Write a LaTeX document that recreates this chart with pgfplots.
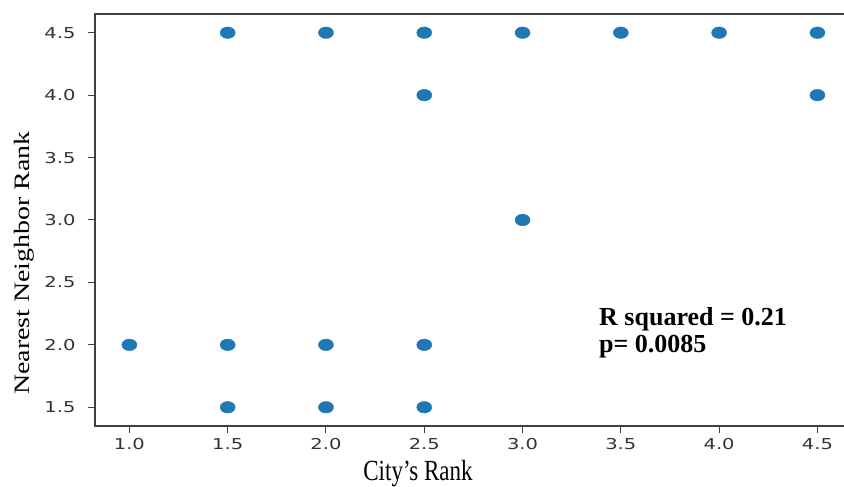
\documentclass[border=0pt]{standalone}
\usepackage{fontspec}
\setmainfont{Liberation Serif}
\newfontfamily\tickfont[FakeStretch=1.3]{DejaVu Sans}
\usepackage{pgfplots}
\pgfplotsset{compat=1.18}
\definecolor{mplblue}{HTML}{1F77B4}
\definecolor{spine}{HTML}{404040}

\begin{document}
\begin{tikzpicture}[x=1bp,y=1bp]
\useasboundingbox (0,0) rectangle (844,487);
\begin{axis}[
    at={(95bp,61bp)}, anchor=south west,
    scale only axis, width=756.8bp, height=412bp,
    xmin=0.825, xmax=4.675, ymin=1.35, ymax=4.65,
    xtick={1.0,1.5,2.0,2.5,3.0,3.5,4.0,4.5},
    ytick={1.5,2.0,2.5,3.0,3.5,4.0,4.5},
    xtick pos=lower, ytick pos=left,
    tick align=outside,
    major tick length=7bp,
    tick style={spine, line width=1bp},
    axis line style={spine, line width=1.5bp},
    ticklabel style={font=\tickfont\fontsize{15bp}{18bp}\selectfont, text=black!80},
    yticklabel style={xshift=-9bp},
    xticklabel style={yshift=-2bp},
    /pgf/number format/.cd, fixed, fixed zerofill, precision=1, assume math mode=true,
]
    \addplot[only marks, mark=*, mark size=5.8bp, mplblue,
        mark options={xscale=1.3}] coordinates {
        (1.5,4.5) (2.0,4.5) (2.5,4.5) (3.0,4.5) (3.5,4.5) (4.0,4.5) (4.5,4.5)
        (2.5,4.0) (4.5,4.0)
        (3.0,3.0)
        (1.0,2.0) (1.5,2.0) (2.0,2.0) (2.5,2.0)
        (1.5,1.5) (2.0,1.5) (2.5,1.5)
    };
\end{axis}
% labels placed as in the reference
\node[rotate=90] at (24,224) {\scalebox{1.27}[1]{\fontsize{22bp}{26bp}\selectfont Nearest Neighbor Rank}};
\node[anchor=base, inner sep=0pt] at (418,6) {\scalebox{1}[1.27]{\fontsize{23bp}{27bp}\selectfont City’s Rank}};
\node[anchor=base west, inner sep=0pt] at (599,161) {\fontsize{26bp}{30bp}\selectfont\bfseries R squared = 0.21};
\node[anchor=base west, inner sep=0pt] at (599,134) {\fontsize{26bp}{30bp}\selectfont\bfseries p= 0.0085};
\end{tikzpicture}
\end{document}
